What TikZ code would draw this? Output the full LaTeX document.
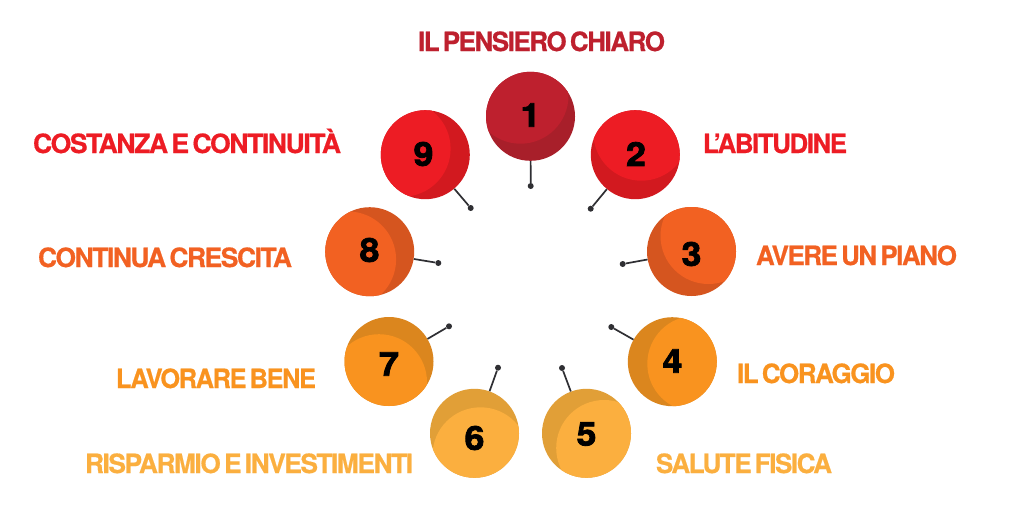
\documentclass[tikz,border=0pt]{standalone}
\usepackage{graphicx}
\usepackage{fontspec}
\setmainfont{TeX Gyre Heros}
\newfontfamily\labelfont[LetterSpace=-5.5,FakeBold=0.6,WordSpace=0.55]{TeX Gyre Heros Bold}
\newfontfamily\digitfont[FakeBold=2.4,FakeStretch=1.08]{TeX Gyre Heros Bold}
\definecolor{c1}{HTML}{BE202E}\definecolor{d1}{HTML}{A81F2A}
\definecolor{c2}{HTML}{ED1C24}\definecolor{d2}{HTML}{D2191F}
\definecolor{c3}{HTML}{F26122}\definecolor{d3}{HTML}{D5551F}
\definecolor{c4}{HTML}{F9931F}\definecolor{d4}{HTML}{DB861E}
\definecolor{c5}{HTML}{FBAF3F}\definecolor{d5}{HTML}{E19F37}
\definecolor{stemcol}{HTML}{2F2F33}
\usetikzlibrary{calc}
\tikzset{
  ball/.style={circle,minimum size=89pt,inner sep=0pt,draw=none},
  pin/.style={circle,minimum size=6pt,inner sep=0pt,fill=stemcol,draw=none},
  stem/.style={draw=stemcol,line width=1.7pt},
  digit/.style={inner sep=0pt,font=\digitfont\fontsize{33}{33}\selectfont,text=black},
  lab/.style={inner sep=0pt,anchor=base,font=\labelfont\fontsize{26.5}{26.5}\selectfont}
}
\newcommand\fitw[2]{\resizebox{#1pt}{\height}{#2}}
\newcommand\myball[9]{%
  \node[pin] (p#1) at (#8,#9) {};
  \node[ball,fill=#4] (b#1) at (#2,#3) {};
  \draw[stem] (b#1) -- (p#1);
  \begin{scope}
    \clip (b#1.center) circle (44.5pt);
    \fill[#5] ($(b#1.center)+(#6,#7)$) circle (48pt);
  \end{scope}
}
\begin{document}
\begin{tikzpicture}[x=1pt,y=-1pt]
\useasboundingbox[fill=white] (0,0) rectangle (1024,512);
\myball{1}{530.5}{116.3}{d1}{c1}{-10}{-20.6}{530.7}{186}
\myball{2}{635.3}{154.7}{d2}{c2}{6}{-22}{590.7}{208.7}
\myball{3}{691.5}{251.5}{d3}{c3}{17}{-15.5}{622.7}{264}
\myball{4}{672.3}{361.7}{d4}{c4}{23}{2}{611.3}{327}
\myball{5}{586.5}{433.3}{d5}{c5}{17.7}{14.7}{562}{368}
\myball{6}{474.5}{433.3}{d5}{c5}{6}{22}{498}{367.7}
\myball{7}{389}{361.5}{d4}{c4}{-10}{20.7}{449}{326.3}
\myball{8}{369.7}{251.7}{d3}{c3}{-21.6}{7.8}{438.3}{263}
\myball{9}{425.3}{154.7}{d2}{c2}{-22.7}{-6}{470.7}{208}
\node[digit] (n1) at (530.5,115) {1};
\node[digit] (n2) at (636,154) {2};
\node[digit] (n3) at (691.5,254) {3};
\node[digit] (n4) at (672.5,361) {4};
\node[digit] (n5) at (586.5,434) {5};
\node[digit] (n6) at (474.5,438) {6};
\node[digit] (n7) at (389,364) {7};
\node[digit] (n8) at (369.5,250) {8};
\node[digit] (n9) at (423.5,154) {9};
\node[lab,text=c1] (l1) at (541.5,51) {\fitw{247}{IL PENSIERO CHIARO}};
\node[lab,text=c2] (l2) at (775,153) {\fitw{144}{L’ABITUDINE}};
\node[lab,text=c3] (l3) at (856.5,265) {\fitw{201}{AVERE UN PIANO}};
\node[lab,text=c4] (l4) at (816,383) {\fitw{158}{IL CORAGGIO}};
\node[lab,text=c5] (l5) at (744,473) {\fitw{176}{SALUTE FISICA}};
\node[lab,text=c5] (l6) at (249,473) {\fitw{328}{RISPARMIO E INVESTIMENTI}};
\node[lab,text=c4] (l7) at (216,388) {\fitw{200}{LAVORARE BENE}};
\node[lab,text=c3] (l8) at (165,267) {\fitw{254}{CONTINUA CRESCITA}};
\node[lab,text=c2] (l9) at (187,153) {\fitw{308}{COSTANZA E CONTINUITÀ}};
\end{tikzpicture}
\end{document}
